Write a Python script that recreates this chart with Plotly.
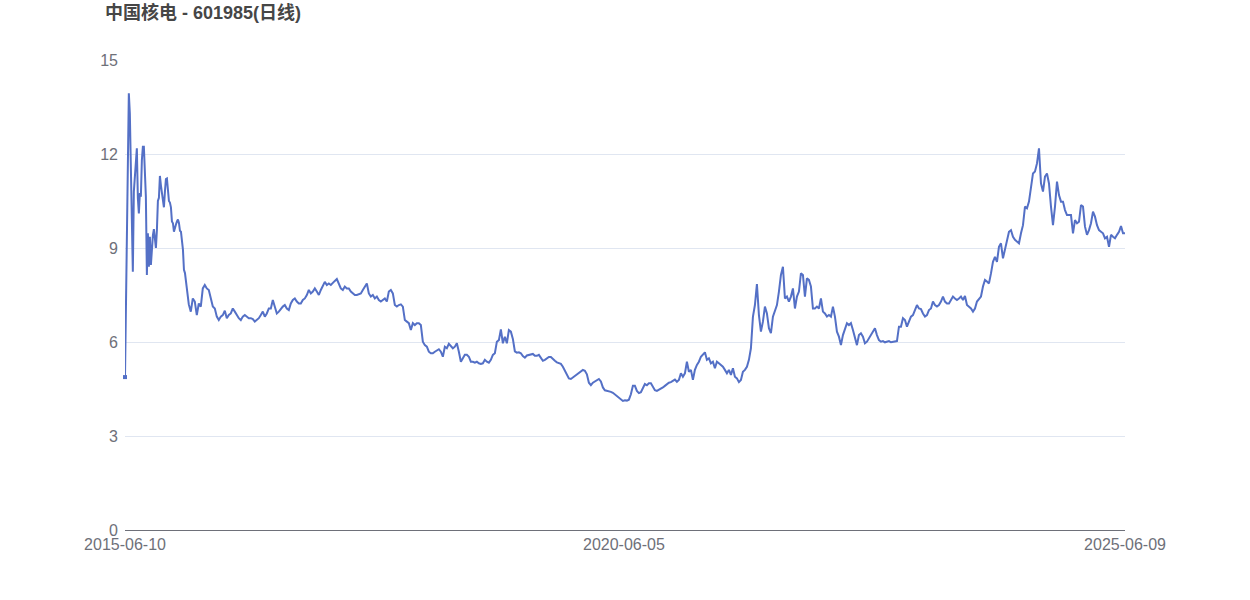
import pandas as pd
import plotly.graph_objects as go

title_text = "中国核电 - 601985(日线)"
tick_dates = ["2015-06-10", "2020-06-05", "2025-06-09"]

# listing day close
first_date = "2015-06-10"
first_close = 4.88

# dense segment (2015-06-24 .. 2016-01-15)
close_a = [
    13.94, 13.3, 11.6, 9.5, 8.24, 10.8, 11.3, 11.5, 12.18, 10.6,
    10.1, 10.75, 10.64, 11.8, 12.23, 12.23, 11.38, 10.64, 8.14, 9.47,
    8.40, 9.36, 8.46, 9.0, 9.4, 9.6, 9.3, 9.0, 9.57, 10.5,
    10.6, 11.3, 11.0, 10.7, 10.5, 10.3, 10.8, 11.2, 11.22, 10.8,
    10.5, 10.45, 10.3, 9.85, 9.79, 9.52, 9.68, 9.75, 9.85, 9.91,
    9.8, 9.55, 9.52, 9.3, 8.94, 8.3, 8.2,
]

# main segment (2016-01-29 .. 2025-06-09), evenly spaced samples
close_b = [
    7.2, 6.97, 7.39, 7.29, 6.86, 7.23, 7.13, 7.71, 7.82, 7.71,
    7.66, 7.39, 7.13, 7.07, 6.81, 6.70, 6.81, 6.86, 7.0, 6.76,
    6.86, 6.91, 7.07, 6.97, 6.86, 6.76, 6.70, 6.81, 6.86, 6.81,
    6.76, 6.76, 6.73, 6.65, 6.70, 6.76, 6.86, 6.97, 6.81, 6.91,
    7.07, 7.07, 7.34, 7.13, 6.91, 6.97, 7.07, 7.13, 7.18, 7.07,
    7.02, 7.23, 7.34, 7.39, 7.29, 7.23, 7.23, 7.34, 7.39, 7.50,
    7.66, 7.55, 7.61, 7.71, 7.61, 7.50, 7.66, 7.82, 7.92, 7.82,
    7.87, 7.82, 7.87, 7.95, 8.01, 7.87, 7.71, 7.66, 7.77, 7.71,
    7.71, 7.61, 7.55, 7.50, 7.50, 7.52, 7.55, 7.66, 7.77, 7.87,
    7.55, 7.45, 7.50, 7.39, 7.45, 7.34, 7.29, 7.34, 7.39, 7.29,
    7.61, 7.66, 7.55, 7.18, 7.13, 7.18, 7.20, 7.13, 6.70, 6.65,
    6.60, 6.38, 6.60, 6.54, 6.60, 6.60, 6.54, 6.01, 5.90, 5.85,
    5.69, 5.64, 5.64, 5.69, 5.74, 5.77, 5.69, 5.53, 5.85, 5.80,
    5.94, 5.87, 5.80, 5.85, 5.96, 5.69, 5.37, 5.48, 5.59, 5.59,
    5.53, 5.37, 5.37, 5.34, 5.37, 5.32, 5.30, 5.32, 5.43, 5.37,
    5.34, 5.43, 5.59, 5.64, 6.01, 6.06, 6.4, 5.96, 6.17, 5.96,
    6.38, 6.33, 6.10, 5.70, 5.66, 5.67, 5.64, 5.55, 5.50, 5.57,
    5.59, 5.62, 5.62, 5.56, 5.56, 5.59, 5.50, 5.40, 5.43, 5.48,
    5.52, 5.52, 5.45, 5.40, 5.35, 5.33, 5.30, 5.21, 5.10, 4.97,
    4.84, 4.82, 4.87, 4.92, 4.97, 5.03, 5.08, 5.11, 5.08, 4.97,
    4.70, 4.62, 4.70, 4.74, 4.79, 4.82, 4.74, 4.55, 4.46, 4.45,
    4.43, 4.41, 4.38, 4.33, 4.28, 4.23, 4.15, 4.12, 4.14, 4.13,
    4.16, 4.33, 4.60, 4.60, 4.44, 4.37, 4.40, 4.52, 4.66, 4.62,
    4.68, 4.68, 4.55, 4.46, 4.44, 4.47, 4.50, 4.55, 4.60, 4.66,
    4.70, 4.72, 4.75, 4.80, 4.73, 4.79, 5.00, 4.89, 5.00, 5.37,
    5.05, 5.11, 4.79, 5.11, 5.27, 5.37, 5.53, 5.59, 5.67, 5.43,
    5.48, 5.32, 5.37, 5.16, 5.37, 5.32, 5.27, 5.21, 5.11, 5.00,
    5.11, 4.95, 5.16, 4.89, 4.84, 4.72, 4.79, 5.05, 5.11, 5.21,
    5.43, 5.80, 6.8, 7.18, 7.85, 6.86, 6.33, 6.65, 7.13, 6.91,
    6.44, 6.28, 6.81, 6.97, 7.18, 7.61, 8.14, 8.40, 7.39, 7.45,
    7.29, 7.45, 7.71, 7.07, 7.45, 7.61, 8.19, 8.14, 7.45, 8.03,
    7.98, 7.77, 7.07, 7.07, 7.13, 7.07, 7.39, 6.97, 6.91, 6.81,
    6.86, 6.81, 7.13, 6.81, 6.33, 6.17, 5.90, 6.22, 6.38, 6.60,
    6.54, 6.60, 6.38, 6.17, 5.90, 6.22, 6.28, 6.17, 5.96, 6.01,
    6.12, 6.22, 6.33, 6.44, 6.22, 6.06, 6.01, 6.03, 5.99, 6.01,
    6.03, 5.99, 6.01, 6.01, 6.03, 6.49, 6.49, 6.76, 6.70, 6.49,
    6.65, 6.81, 6.86, 7.02, 7.18, 7.07, 7.05, 6.91, 6.81, 6.86,
    7.02, 7.07, 7.29, 7.18, 7.13, 7.18, 7.29, 7.45, 7.29, 7.23,
    7.23, 7.34, 7.45, 7.39, 7.34, 7.39, 7.45, 7.34, 7.47, 7.18,
    7.13, 7.07, 6.97, 7.07, 7.29, 7.39, 7.45, 7.77, 7.98, 7.93,
    7.87, 8.19, 8.56, 8.72, 8.56, 9.04, 9.15, 8.67, 8.94, 9.20,
    9.52, 9.57, 9.36, 9.26, 9.20, 9.15, 9.47, 9.73, 10.32, 10.27,
    10.48, 10.96, 11.38, 11.44, 11.70, 12.18, 11.06, 10.80, 11.28, 11.38,
    11.06, 10.32, 9.73, 10.32, 11.12, 10.69, 10.48, 10.48, 10.21, 10.05,
    10.05, 10.05, 9.47, 9.89, 9.79, 9.84, 10.37, 10.32, 9.68, 9.42,
    9.57, 9.79, 10.16, 10.00, 9.73, 9.57, 9.52, 9.47, 9.31, 9.36,
    9.04, 9.42, 9.36, 9.31, 9.42, 9.52, 9.70, 9.47, 9.47,
]
assert len(close_b) == 469, len(close_b)

dates_a = pd.date_range("2015-06-24", "2016-01-15", periods=len(close_a))
dates_b = pd.date_range("2016-01-29", "2025-06-09", periods=len(close_b))

dates = [pd.Timestamp(first_date)] + list(dates_a) + list(dates_b)
close = [first_close] + close_a + close_b

font_family = "Liberation Sans, Arial, Noto Sans CJK SC, sans-serif"
line_color = "#5470C6"

fig = go.Figure()
fig.add_trace(go.Scatter(
    x=dates, y=close, mode="lines",
    line=dict(color=line_color, width=2),
    showlegend=False,
))
# small square at the first data point
fig.add_trace(go.Scatter(
    x=[dates[0]], y=[close[0]], mode="markers",
    marker=dict(color=line_color, size=4, symbol="square"),
    cliponaxis=False,
    showlegend=False,
))

fig.update_layout(
    width=1250, height=600,
    paper_bgcolor="white", plot_bgcolor="white",
    margin=dict(l=125, r=125, t=60, b=70),
    font=dict(family=font_family, color="#6E7079", size=16),
    title=dict(
        text=title_text,
        x=105 / 1250, xref="container", xanchor="left",
        y=1 - 13 / 600, yref="container", yanchor="middle",
        font=dict(family=font_family, size=18, color="#464646", weight="bold"),
    ),
)
fig.update_xaxes(
    type="date",
    range=["2015-06-10", "2025-06-09"],
    tickvals=tick_dates, ticktext=tick_dates,
    showgrid=False, showline=True, linecolor="#6E7079", linewidth=1,
    ticks="", zeroline=False,
    tickfont=dict(size=16, color="#6E7079"),
)
fig.update_yaxes(
    range=[0, 15], tickvals=[0, 3, 6, 9, 12, 15],
    showgrid=True, gridcolor="#E0E6F1", gridwidth=1,
    zeroline=False, showline=False, ticks="",
    ticklabelstandoff=6,
    tickfont=dict(size=16, color="#6E7079"),
)

fig.write_html(
    "out.html",
    config={"displayModeBar": False},
    post_script="document.body.style.margin='0';",
)
